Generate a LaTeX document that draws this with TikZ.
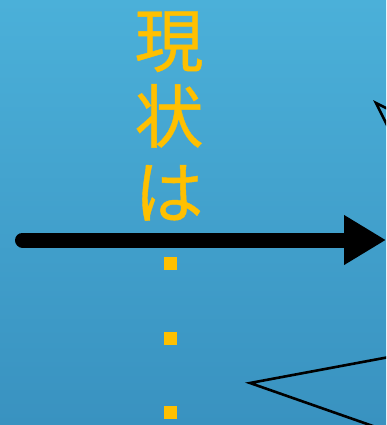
\documentclass[tikz,border=0pt]{standalone}
\usepackage{fontspec}
\newfontfamily\cjk{Noto Sans CJK JP}[FakeBold=0.6]
\usetikzlibrary{arrows.meta}
\definecolor{bgtop}{RGB}{75,176,217}
\definecolor{bgbot}{RGB}{57,146,192}
\definecolor{gold}{RGB}{255,192,0}
\tikzset{
  dotsq/.style={fill=gold, inner sep=0pt, minimum size=13pt},
  thinline/.style={draw=black, line width=2.6pt, line join=miter},
  mainarrow/.style={line width=15pt, line cap=round, -{Triangle[length=42pt,width=47pt]}},
}
\begin{document}
\begin{tikzpicture}[x=1pt,y=-1pt]
\useasboundingbox (0,0) rectangle (386,425);
\clip (0,0) rectangle (386,425);
\shade[top color=bgtop, bottom color=bgbot] (0,0) rectangle (386,425);
% text
\node[text=gold, font=\cjk\fontsize{69}{76}\selectfont, align=center, inner sep=0pt] (txt) at (169,116) {現\\状\\は};
% arrow
\coordinate (a0) at (22.5,240);
\coordinate (a1) at (386,240);
\draw[mainarrow] (a0) -- (a1);
% dots
\node[dotsq] (d1) at (170.5,263.5) {};
\node[dotsq] (d2) at (170.5,338.5) {};
\node[dotsq] (d3) at (170.5,412.5) {};
% triangles
\coordinate (t1) at (376,103);
\coordinate (t1a) at (400,115);
\coordinate (t1b) at (390,131);
\draw[thinline] (t1a) -- (t1) -- (t1b);
\coordinate (t2) at (250,383);
\coordinate (t2a) at (400,355);
\coordinate (t2b) at (390,432);
\draw[thinline] (t2a) -- (t2) -- (t2b);
\end{tikzpicture}
\end{document}
